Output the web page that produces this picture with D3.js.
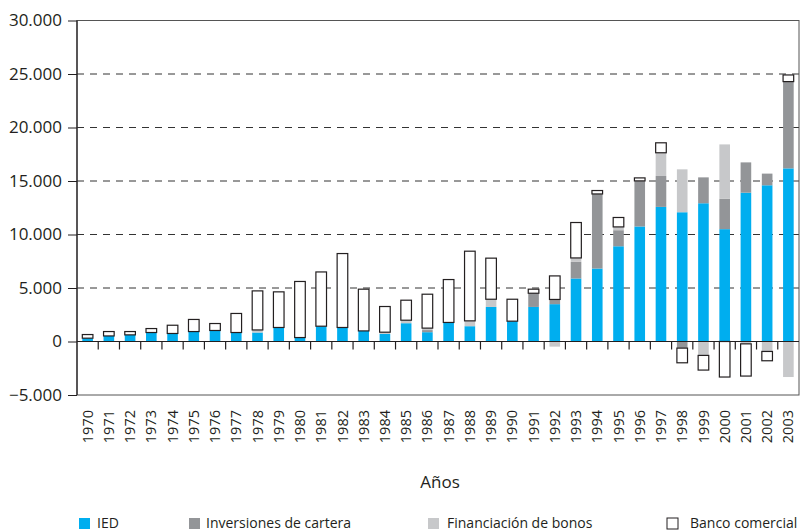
<!DOCTYPE html>
<html><head><meta charset="utf-8">
<script src="https://cdn.jsdelivr.net/npm/d3@7"></script>
<style>body{margin:0;background:#fff}svg{display:block;font-family:"Open Sans",sans-serif}</style>
</head><body><svg id="c" width="800" height="531"></svg>
<script>
const years = d3.range(1970, 2004).map(String);
const ied = [310,520,620,840,750,930,1030,840,840,1310,370,1430,1310,990,710,1710,870,1780,1430,3230,1900,3230,3490,5890,6820,8900,10750,12580,12080,12920,10500,13910,14600,16180];
const cartera = [0,0,0,0,0,0,0,0,0,0,0,0,0,0,0,0,200,0,0,0,0,1280,440,1550,6970,1500,4260,2890,-620,2420,2830,2830,1090,8110];
const bonos = [0,0,0,0,0,0,0,0,240,0,0,0,0,0,160,280,180,0,500,720,0,0,-480,370,0,310,0,2170,4010,-1300,5090,-220,-930,-3320];
const banco = [340,410,310,370,770,1130,650,1780,3650,3330,5240,5070,6910,3900,2400,1870,3170,4010,6510,3840,2050,380,2200,3310,320,880,280,930,-1370,-1370,-3320,-3010,-870,620];
const yTicks = [-5000,0,5000,10000,15000,20000,25000,30000];
const seriesNames = ["IED","Inversiones de cartera","Financiación de bonos","Banco comercial"];
const colors = ["#00aeef","#939598","#c7c8ca","#ffffff"];

const svg = d3.select("#c");
const L = 77, R = 799, T = 20.5, B = 395;
const x = d3.scaleBand().domain(years).range([L, R]).paddingInner(0.5).paddingOuter(0.25);
const y = d3.scaleLinear().domain([-5000, 30000]).range([B, T]);
const fmt = v => d3.format(",")(v).replace(/,/g, ".");

// gridlines
svg.append("g").selectAll("line").data(yTicks.filter(v => v > 0 && v < 30000)).join("line")
  .attr("x1", L).attr("x2", R).attr("y1", d => y(d)).attr("y2", d => y(d))
  .attr("stroke", "#333").attr("stroke-width", 1).attr("stroke-dasharray", "7,6");

// data table
const table = years.map((yr, i) => ({year: yr, "IED": ied[i], "Inversiones de cartera": cartera[i], "Financiación de bonos": bonos[i], "Banco comercial": banco[i]}));
const stack = d3.stack().keys(seriesNames).offset(d3.stackOffsetDiverging)(table);

const g = svg.append("g");
stack.forEach((s, si) => {
  g.append("g").selectAll("rect").data(s.filter(d => d[1] !== d[0])).join("rect")
    .attr("x", d => x(d.data.year)).attr("width", x.bandwidth())
    .attr("y", d => y(Math.max(d[0], d[1])))
    .attr("height", d => Math.abs(y(d[0]) - y(d[1])))
    .attr("fill", colors[si])
    .attr("stroke", si === 3 ? "#231f20" : "none")
    .attr("stroke-width", si === 3 ? 1.2 : 0);
});

// frame
svg.append("rect").attr("x", L).attr("y", T).attr("width", R - L).attr("height", B - T)
  .attr("fill", "none").attr("stroke", "#555").attr("stroke-width", 1);
svg.append("line").attr("x1", L).attr("x2", L).attr("y1", T).attr("y2", B).attr("stroke", "#231f20").attr("stroke-width", 1.2);
// zero line
svg.append("line").attr("x1", L).attr("x2", R).attr("y1", y(0)).attr("y2", y(0)).attr("stroke", "#231f20").attr("stroke-width", 1.2);

// y axis
const yAxis = d3.axisLeft(y).tickValues(yTicks).tickSize(9).tickPadding(6).tickFormat(fmt);
const ya = svg.append("g").attr("transform", `translate(${L},0)`).call(yAxis);
ya.select(".domain").remove();
ya.selectAll("line").attr("stroke", "#231f20");
ya.selectAll("text").attr("font-size", 17).attr("fill", "#231f20").attr("font-family", '"Open Sans",sans-serif');

// category ticks at band boundaries on zero line
const step = x.step();
svg.append("g").selectAll("line").data(years.slice(1)).join("line")
  .attr("x1", d => x(d) + x.bandwidth()/2 - step/2).attr("x2", d => x(d) + x.bandwidth()/2 - step/2)
  .attr("y1", y(0)).attr("y2", y(0) + 8).attr("stroke", "#231f20").attr("stroke-width", 1.2);

// year labels
svg.append("g").selectAll("text").data(years).join("text")
  .attr("transform", d => `translate(${x(d) + x.bandwidth()/2},410) rotate(-90)`)
  .attr("text-anchor", "end").attr("dy", "0.35em")
  .attr("font-size", 14.5).attr("fill", "#231f20").text(d => d);

// axis title
svg.append("text").attr("x", 440).attr("y", 488).attr("text-anchor", "middle")
  .attr("font-size", 17).attr("fill", "#231f20").text("Años");

// legend
const legX = [79, 189, 428, 667];
const textX = [97, 206, 447, 690];
const lg = svg.append("g");
seriesNames.forEach((n, i) => {
  lg.append("rect").attr("x", legX[i]).attr("y", 518).attr("width", 11).attr("height", 11)
    .attr("fill", colors[i]).attr("stroke", i === 3 ? "#231f20" : "none").attr("stroke-width", 1);
  lg.append("text").attr("x", textX[i]).attr("y", 527.5).attr("font-size", 14).attr("fill", "#231f20").text(n);
});
</script></body></html>
